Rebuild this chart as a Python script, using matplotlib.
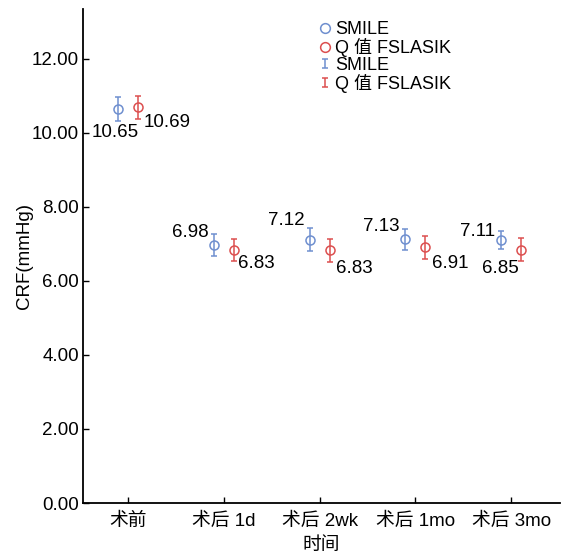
import numpy as np
import matplotlib
matplotlib.use('Agg')
import matplotlib.pyplot as plt
from matplotlib.lines import Line2D
from matplotlib.legend_handler import HandlerErrorbar

plt.rcParams['font.family'] = ['Liberation Sans', 'Noto Sans CJK SC', 'DejaVu Sans']

# data
groups = ['术前', '术后 1d', '术后 2wk', '术后 1mo', '术后 3mo']
smile_mean = [10.65, 6.98, 7.12, 7.13, 7.11]
smile_err = [0.32, 0.30, 0.30, 0.28, 0.25]
fslasik_mean = [10.69, 6.83, 6.83, 6.91, 6.85]
fslasik_err = [0.32, 0.30, 0.31, 0.31, 0.31]
series_names = ['SMILE', 'Q 值 FSLASIK']

blue = '#6f8fcf'
red = '#dc4f4f'
fs = 13.5

fig = plt.figure(figsize=(5.74, 5.56), dpi=100)
ax = fig.add_axes([83/574, 53/556, (560-83)/574, (503-9)/556])

x = np.arange(1, len(groups) + 1)
off = 0.105

eb1 = ax.errorbar(x - off, smile_mean, yerr=smile_err, fmt='none', ecolor=blue,
                  elinewidth=1.1, capsize=2, capthick=1.1)
eb2 = ax.errorbar(x + off, fslasik_mean, yerr=fslasik_err, fmt='none', ecolor=red,
                  elinewidth=1.1, capsize=2, capthick=1.1)
ax.plot(x - off, smile_mean, 'o', mfc='none', mec=blue, ms=6.5, mew=1.1)
ax.plot(x + off, fslasik_mean, 'o', mfc='none', mec=red, ms=6.5, mew=1.1)

# value labels, offsets in pixels (dx, dy)
smile_off = [(-3, -24), (-23, 12), (-23, 19), (-24, 13), (-24, 8)]
fslasik_off = [(29, -15), (22, -13), (25, -18), (25, -16), (-21, -19)]
for i in range(len(groups)):
    ax.annotate('%.2f' % smile_mean[i], (x[i] - off, smile_mean[i]),
                xytext=smile_off[i], textcoords='offset pixels',
                ha='center', va='center', fontsize=fs)
    ax.annotate('%.2f' % fslasik_mean[i], (x[i] + off, fslasik_mean[i]),
                xytext=fslasik_off[i], textcoords='offset pixels',
                ha='center', va='center', fontsize=fs)

ax.set_xlim(0.53, 5.51)
ax.set_ylim(0, 13.35)
ax.set_xticks(x)
ax.set_xticklabels(groups)
ax.set_yticks(np.arange(0, 13, 2))
ax.set_yticklabels(['%.2f' % v for v in np.arange(0, 13, 2)])
ax.tick_params(direction='in', length=4, width=1, labelsize=fs)
ax.tick_params(axis='x', pad=7)
ax.tick_params(axis='y', pad=3)
for s in ['top', 'right']:
    ax.spines[s].set_visible(False)
for s in ['left', 'bottom']:
    ax.spines[s].set_linewidth(1.3)

ax.set_xlabel('时间', fontsize=fs, labelpad=5)
ax.set_ylabel('CRF(mmHg)', fontsize=fs, labelpad=-1)

h1 = Line2D([], [], ls='none', marker='o', mfc='none', mec=blue, ms=7, mew=1.1)
h2 = Line2D([], [], ls='none', marker='o', mfc='none', mec=red, ms=7, mew=1.1)
fig.legend([h1, h2, eb1, eb2], series_names + series_names,
           loc='upper left', bbox_to_anchor=(319/574, 1 - 21/556),
           frameon=False, fontsize=13, handlelength=0.7, handletextpad=0.2,
           labelspacing=0.0, borderpad=0, borderaxespad=0,
           handler_map={type(eb1): HandlerErrorbar(yerr_size=0.25)})

fig.savefig('out.png', dpi=100)
